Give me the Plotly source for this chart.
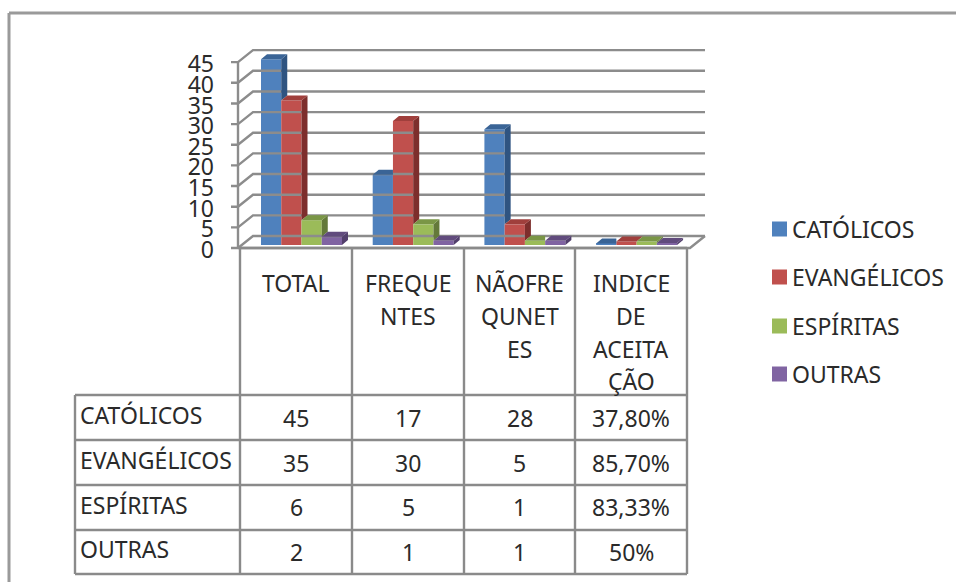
import plotly.graph_objects as go

# ---- data ----
series_names = ["CATÓLICOS", "EVANGÉLICOS", "ESPÍRITAS", "OUTRAS"]
header_lines = [["TOTAL"], ["FREQUE", "NTES"], ["NÃOFRE", "QUNET", "ES"], ["INDICE", "DE", "ACEITA", "ÇÃO"]]
catolicos = [45, 17, 28, 0.378]
evangelicos = [35, 30, 5, 0.857]
espiritas = [6, 5, 1, 0.8333]
outras = [2, 1, 1, 0.5]
table_catolicos = ["45", "17", "28", "37,80%"]
table_evangelicos = ["35", "30", "5", "85,70%"]
table_espiritas = ["6", "5", "1", "83,33%"]
table_outras = ["2", "1", "1", "50%"]
y_ticks = [0, 5, 10, 15, 20, 25, 30, 35, 40, 45]

# ---- styles / layout ----
W, H = 956, 582
front = ["#4F81BD", "#C0504D", "#9BBB59", "#8064A2"]
side = ["#2F5481", "#7D2E2C", "#64793A", "#523F6C"]
top = ["#3A6496", "#A03F3C", "#7A9646", "#614B7D"]
GRID = "#8C8C8C"
TEXT = "#2A2A2A"
FONT = "Noto Sans"
L, R, T, B = 215, 0, 40, 330          # plot margins in px
X0, XS = 301.5, 111.7                  # px of category 0, px per category
Y0, YS = 248.0, 4.13                   # px of value 0, px per unit
BAR_LIFT = 0.73                        # bars stand slightly behind the front edge
GAP = 0.275
DX, DY = 6 / XS, 5 / YS                # bar depth
WX, WY = 15 / XS, 12 / YS              # wall depth


def dx(px):
    return (px - X0) / XS


def px_paper_x(px):
    return (px - L) / (W - L - R)


def px_paper_y(py):
    return 1 - (py - T) / (H - T - B)


all_series = [catolicos, evangelicos, espiritas, outras]
fig = go.Figure()


def poly(xs, ys, color):
    fig.add_trace(go.Scatter(x=xs, y=ys, mode="lines", fill="toself", fillcolor=color,
                             line=dict(width=0, color=color), hoverinfo="skip", showlegend=False))


def line(xs, ys):
    fig.add_trace(go.Scatter(x=xs, y=ys, mode="lines", line=dict(color=GRID, width=2.4),
                             hoverinfo="skip", showlegend=False))


# walls and grid
xf_l, xf_r = dx(238), dx(690)
xb_l, xb_r = xf_l + WX, xf_r + WX
gx, gy = [], []
for v in y_ticks:
    gx += [dx(231), xf_l, xb_l, xb_r, None]
    gy += [v, v, v + WY, v + WY, None]
line(gx, gy)
line([xf_l, xf_l], [0, 45])
line([xf_l, xf_r, xb_r], [0, 0, WY])

# bars
w = (1 - GAP) / 4
for s, vals in enumerate(all_series):
    fig.add_trace(go.Bar(x=list(range(4)), y=vals, base=[BAR_LIFT] * 4, name=series_names[s],
                         marker=dict(color=front[s], line=dict(width=0)), showlegend=False))

# depth faces of the bars, taken from the same values
for s, vals in enumerate(all_series):
    sx, sy, tx, ty = [], [], [], []
    for c, v in enumerate(vals):
        xl = c + (s - 2) * w
        xr = xl + w
        t = v + BAR_LIFT
        nxt = all_series[s + 1][c] + BAR_LIFT if s < 3 else None
        if nxt is None or nxt < t:
            low = nxt if nxt is not None else BAR_LIFT
            sx += [xr, xr + DX, xr + DX, xr, xr, None]
            sy += [t, t + DY, low + DY, low, t, None]
            tx += [xl, xr, xr + DX, xl + DX, xl, None]
            ty += [t, t, t + DY, t + DY, t, None]
        else:
            tx += [xl, xr, xr, xl + DX, xl, None]
            ty += [t, t, t + DY, t + DY, t, None]
    poly(sx, sy, side[s])
    poly(tx, ty, top[s])

# table
shapes, notes = [], []


def seg(x0, y0, x1, y1, color="#8A8A8A", width=2.4):
    shapes.append(dict(type="line", xref="paper", yref="paper",
                       x0=px_paper_x(x0), x1=px_paper_x(x1),
                       y0=px_paper_y(y0), y1=px_paper_y(y1),
                       line=dict(color=color, width=width), layer="above"))


def label(x, y, text, anchor="center", size=23):
    notes.append(dict(xref="paper", yref="paper", x=px_paper_x(x), y=px_paper_y(y), text=text,
                      showarrow=False, xanchor=anchor, yanchor="middle", xshift=0,
                      font=dict(family=FONT, size=size, color=TEXT)))


seg(9, 13, 956, 13, "#9A9A9A", 3)
seg(9, 13, 9, 582, "#9A9A9A", 3)
col_x = [240, 352, 464, 575, 687]
row_y = [395, 440, 485, 530, 574]
for x in col_x:
    seg(x, 248, x, row_y[-1])
seg(75, row_y[0], 75, row_y[-1])
for y in row_y:
    seg(75, y, col_x[-1], y)
seg(col_x[0], 248, col_x[-1], 248)

line_y = [283, 316, 349, 381]
for c, lines in enumerate(header_lines):
    for i, t in enumerate(lines):
        label((col_x[c] + col_x[c + 1]) / 2, line_y[i], t)

rows = [table_catolicos, table_evangelicos, table_espiritas, table_outras]
name_y = [415, 460, 505, 549]
val_y = [418, 463, 507, 552]
for r, vals in enumerate(rows):
    label(78, name_y[r], series_names[r], "left")
    for c, t in enumerate(vals):
        label((col_x[c] + col_x[c + 1]) / 2, val_y[r], t)

# legend
leg_y = [229, 277, 326, 374]
for i, n in enumerate(series_names):
    shapes.append(dict(type="rect", xref="paper", yref="paper",
                       x0=px_paper_x(772), x1=px_paper_x(787),
                       y0=px_paper_y(leg_y[i] + 7.5), y1=px_paper_y(leg_y[i] - 7.5),
                       fillcolor=front[i], line=dict(width=0)))
    label(790, leg_y[i], n, "left")

fig.update_layout(
    width=W, height=H, margin=dict(l=L, r=R, t=T, b=B, pad=0),
    paper_bgcolor="white", plot_bgcolor="white", showlegend=False,
    barmode="group", bargap=GAP, bargroupgap=0,
    shapes=shapes, annotations=notes,
    xaxis=dict(range=[dx(L), dx(W - R)], visible=False, fixedrange=True),
    yaxis=dict(range=[(Y0 - (H - B)) / YS, (Y0 - T) / YS], tickvals=y_ticks,
               ticktext=[str(v) for v in y_ticks], showgrid=False, zeroline=False, showline=False,
               ticks="", ticklen=0, fixedrange=True, ticklabelshift=2,
               tickfont=dict(family=FONT, size=23, color=TEXT)),
)
fig.write_html("out.html", post_script="document.body.style.margin='0';", config=dict(displayModeBar=False))
